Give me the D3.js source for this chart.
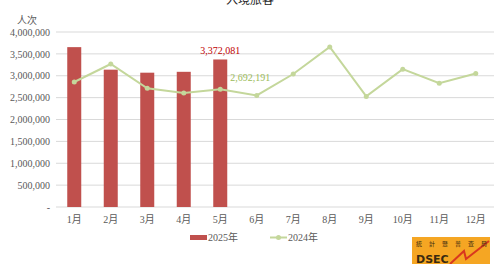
<!DOCTYPE html>
<html>
<head>
<meta charset="utf-8">
<script src="https://cdn.jsdelivr.net/npm/d3@7"></script>
<style>
  body { margin: 0; background: #fff; }
  svg text { font-family: "Liberation Serif", "Noto Sans CJK SC", serif; }
</style>
</head>
<body>
<svg id="chart" width="500" height="264"></svg>
<script>
var months = ['1月', '2月', '3月', '4月', '5月', '6月', '7月', '8月', '9月', '10月', '11月', '12月'];
var values_2025 = [3654000, 3139000, 3070000, 3090000, 3372081];
var values_2024 = [2857000, 3268000, 2713000, 2607000, 2692191, 2550000, 3040000, 3658000, 2528000, 3151000, 2830000, 3050000];
var y_ticks = [0, 500000, 1000000, 1500000, 2000000, 2500000, 3000000, 3500000, 4000000];

var svg = d3.select('#chart');
// note: "top" is reserved on window, so keep the plot box in its own object
var plot = { left: 56, right: 494, top: 32, bottom: 207 };

var x = d3.scaleBand()
    .domain(months)
    .range([plot.left, plot.right]);

var y = d3.scaleLinear()
    .domain([0, 4000000])
    .range([plot.bottom, plot.top]);

var fmt = d3.format(',');

// grid lines
svg.append('g')
    .selectAll('line')
    .data(y_ticks)
    .join('line')
    .attr('x1', plot.left)
    .attr('x2', plot.right)
    .attr('y1', function (d) { return y(d); })
    .attr('y2', function (d) { return y(d); })
    .attr('stroke', '#d9d9d9')
    .attr('stroke-width', 1);

// y axis labels
var yAxis = d3.axisLeft(y)
    .tickValues(y_ticks)
    .tickSize(0)
    .tickPadding(0)
    .tickFormat(function (d) { return d === 0 ? '-' : fmt(d); });

svg.append('g')
    .attr('transform', 'translate(' + (plot.left - 6) + ',0)')
    .call(yAxis)
    .call(function (g) { g.select('.domain').remove(); })
    .selectAll('text')
    .attr('fill', '#595959')
    .attr('font-size', 10)
    .style('font-family', '"Liberation Serif", serif');

// x axis labels
var xAxis = d3.axisBottom(x).tickSize(0).tickPadding(9);
svg.append('g')
    .attr('transform', 'translate(0,' + plot.bottom + ')')
    .call(xAxis)
    .call(function (g) { g.select('.domain').remove(); })
    .selectAll('text')
    .attr('fill', '#595959')
    .attr('font-size', 10);

// bars 2025
var barW = 14;
svg.append('g')
    .selectAll('rect')
    .data(values_2025)
    .join('rect')
    .attr('x', function (d, i) { return x(months[i]) + x.bandwidth() / 2 - barW / 2; })
    .attr('y', function (d) { return y(d); })
    .attr('width', barW)
    .attr('height', function (d) { return plot.bottom - y(d); })
    .attr('fill', '#c0504d');

// line 2024
var line = d3.line()
    .x(function (d, i) { return x(months[i]) + x.bandwidth() / 2; })
    .y(function (d) { return y(d); });

svg.append('path')
    .datum(values_2024)
    .attr('d', line)
    .attr('fill', 'none')
    .attr('stroke', '#c4d79b')
    .attr('stroke-width', 2);

svg.append('g')
    .selectAll('circle')
    .data(values_2024)
    .join('circle')
    .attr('cx', function (d, i) { return x(months[i]) + x.bandwidth() / 2; })
    .attr('cy', function (d) { return y(d); })
    .attr('r', 2.5)
    .attr('fill', '#c4d79b');

// data labels for latest month
var last = values_2025.length - 1;
svg.append('text')
    .attr('x', x(months[last]) + x.bandwidth() / 2)
    .attr('y', y(values_2025[last]) - 5)
    .attr('text-anchor', 'middle')
    .attr('font-size', 10)
    .attr('fill', '#c00000')
    .text(fmt(values_2025[last]));

svg.append('text')
    .attr('x', x(months[last]) + x.bandwidth() / 2 + 10)
    .attr('y', y(values_2024[last]) - 8)
    .attr('font-size', 10)
    .attr('fill', '#9bbb59')
    .text(fmt(values_2024[last]));

// title (cut off at top) and unit
svg.append('text')
    .attr('x', 250)
    .attr('y', 4)
    .attr('text-anchor', 'middle')
    .attr('font-size', 12)
    .attr('fill', '#262626')
    .style('font-family', '"Noto Sans CJK SC", sans-serif')
    .text('入境旅客');

svg.append('text')
    .attr('x', 27)
    .attr('y', 24)
    .attr('text-anchor', 'middle')
    .attr('font-size', 10)
    .attr('fill', '#595959')
    .style('font-family', '"Noto Sans CJK SC", sans-serif')
    .text('人次');

// legend
var legend = svg.append('g');
legend.append('rect')
    .attr('x', 190).attr('y', 235)
    .attr('width', 17).attr('height', 5)
    .attr('fill', '#c0504d');
legend.append('text')
    .attr('x', 208).attr('y', 241)
    .attr('font-size', 10).attr('fill', '#595959')
    .text('2025年');
legend.append('line')
    .attr('x1', 270).attr('x2', 287)
    .attr('y1', 237.5).attr('y2', 237.5)
    .attr('stroke', '#c4d79b').attr('stroke-width', 2);
legend.append('circle')
    .attr('cx', 278.5).attr('cy', 237.5).attr('r', 2.5)
    .attr('fill', '#c4d79b');
legend.append('text')
    .attr('x', 288).attr('y', 241)
    .attr('font-size', 10).attr('fill', '#595959')
    .text('2024年');

// logo
var logo = svg.append('g').attr('transform', 'translate(412,237)');
logo.append('rect')
    .attr('width', 78).attr('height', 27)
    .attr('fill', '#f5a623');
logo.append('text')
    .attr('x', 4).attr('y', 26)
    .attr('font-size', 11).attr('font-weight', 'bold')
    .attr('fill', '#3a2a10')
    .style('font-family', '"DejaVu Sans", sans-serif')
    .text('DSEC');
logo.append('path')
    .attr('d', 'M38,27 L52,14 L54,22 L77,4')
    .attr('fill', 'none')
    .attr('stroke', '#d9381e')
    .attr('stroke-width', 2);
logo.append('text')
    .attr('x', 4).attr('y', 9)
    .attr('font-size', 6)
    .attr('fill', '#3a2a10')
    .attr('letter-spacing', 7)
    .text('統計暨普查局');
</script>
</body>
</html>
